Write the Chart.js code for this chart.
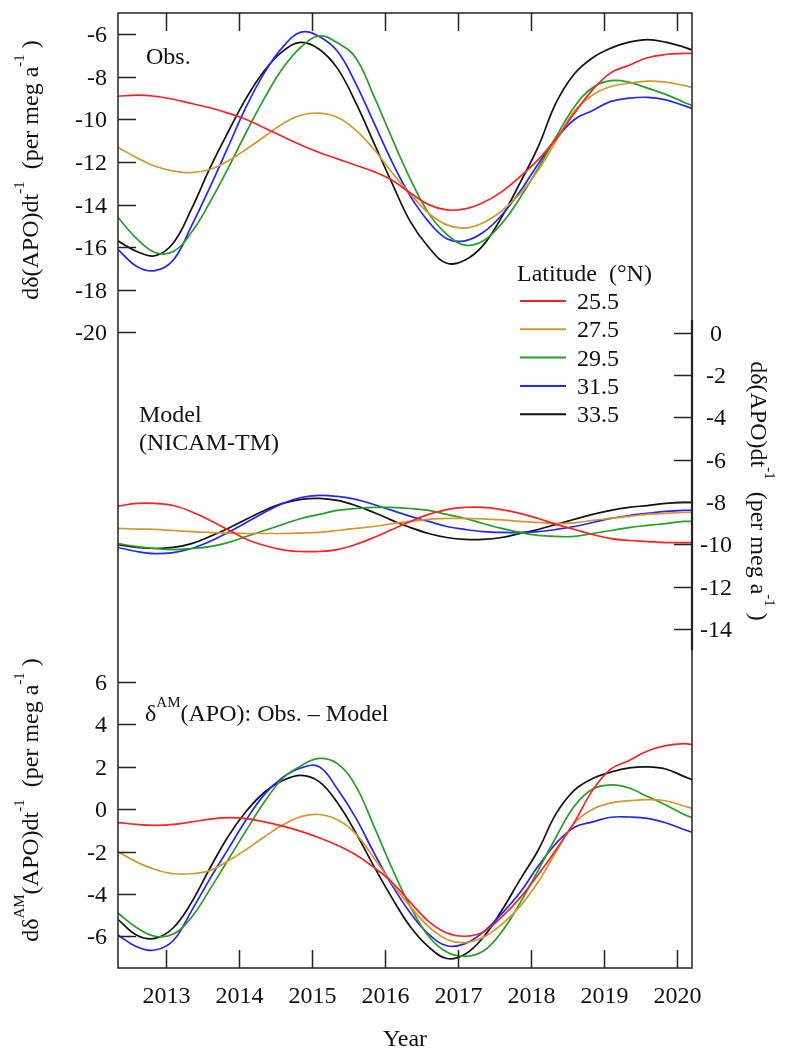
<!DOCTYPE html>
<html><head><meta charset="utf-8">
<script src="https://cdn.jsdelivr.net/npm/chart.js@4.4.1/dist/chart.umd.min.js"></script>
<style>html,body{margin:0;padding:0;background:#fff}canvas{display:block}</style>
</head><body>
<canvas id="c" width="787" height="1050"></canvas>
<script>
// ---- data ----
const years = [2012.34, 2012.6, 2012.85, 2013.1, 2013.35, 2013.6, 2013.85, 2014.1, 2014.35, 2014.6, 2014.85, 2015.1, 2015.35, 2015.6, 2015.85, 2016.1, 2016.35, 2016.6, 2016.85, 2017.1, 2017.35, 2017.6, 2017.85, 2018.1, 2018.35, 2018.6, 2018.85, 2019.1, 2019.35, 2019.6, 2019.85, 2020.1, 2020.21];
const latitudes = ['25.5', '27.5', '29.5', '31.5', '33.5'];
const colors = ['#ff2020', '#d8952a', '#22a022', '#2424ff', '#111111'];

// Obs. panel (left axis, upper)
const obs25 = [-8.91,-8.86,-8.91,-9.05,-9.25,-9.45,-9.70,-10.00,-10.40,-10.80,-11.20,-11.55,-11.85,-12.15,-12.45,-12.85,-13.45,-14.00,-14.25,-14.20,-13.90,-13.40,-12.70,-11.90,-10.90,-9.70,-8.60,-7.80,-7.45,-7.10,-6.95,-6.90,-6.90];
const obs27 = [-11.30,-11.80,-12.20,-12.42,-12.50,-12.35,-11.95,-11.40,-10.80,-10.20,-9.80,-9.70,-9.90,-10.50,-11.40,-12.50,-13.50,-14.40,-14.95,-15.10,-14.85,-14.30,-13.50,-12.40,-11.00,-9.60,-8.85,-8.45,-8.30,-8.20,-8.25,-8.40,-8.49];
const obs29 = [-14.60,-15.60,-16.25,-16.20,-15.30,-13.90,-12.30,-10.60,-9.00,-7.60,-6.60,-6.08,-6.40,-7.10,-8.90,-10.90,-12.80,-14.40,-15.40,-15.90,-15.70,-14.90,-13.70,-12.30,-10.80,-9.40,-8.50,-8.18,-8.25,-8.53,-8.82,-9.19,-9.34];
const obs31 = [-16.10,-16.90,-17.10,-16.60,-15.00,-13.20,-11.30,-9.40,-7.80,-6.60,-5.90,-6.10,-6.80,-8.30,-10.15,-12.00,-13.60,-14.80,-15.60,-15.70,-15.30,-14.50,-13.40,-12.10,-10.90,-10.00,-9.58,-9.15,-9.00,-8.96,-9.08,-9.35,-9.48];
const obs33 = [-15.70,-16.20,-16.40,-15.80,-14.20,-12.30,-10.60,-9.00,-7.70,-6.80,-6.38,-6.70,-7.60,-9.20,-11.10,-13.00,-14.80,-16.00,-16.75,-16.60,-15.90,-14.60,-13.00,-11.30,-9.20,-7.85,-7.10,-6.65,-6.37,-6.25,-6.37,-6.60,-6.74];

// Model (NICAM-TM) panel (right axis)
const mod25 = [-8.19,-8.06,-8.06,-8.16,-8.45,-8.85,-9.30,-9.75,-10.05,-10.25,-10.33,-10.33,-10.24,-10.00,-9.67,-9.29,-8.91,-8.58,-8.35,-8.25,-8.25,-8.35,-8.53,-8.77,-9.05,-9.29,-9.53,-9.72,-9.81,-9.86,-9.91,-9.91,-9.91];
const mod27 = [-9.24,-9.27,-9.29,-9.34,-9.39,-9.43,-9.46,-9.48,-9.48,-9.48,-9.46,-9.43,-9.34,-9.24,-9.15,-9.01,-8.91,-8.81,-8.77,-8.77,-8.79,-8.84,-8.91,-8.96,-9.01,-8.98,-8.86,-8.77,-8.67,-8.58,-8.53,-8.49,-8.49];
const mod29 = [-9.96,-10.10,-10.19,-10.24,-10.19,-10.10,-9.91,-9.62,-9.34,-9.05,-8.77,-8.58,-8.39,-8.30,-8.25,-8.25,-8.30,-8.39,-8.58,-8.77,-9.01,-9.24,-9.43,-9.57,-9.62,-9.62,-9.48,-9.34,-9.20,-9.10,-9.01,-8.91,-8.91];
const mod31 = [-10.14,-10.33,-10.43,-10.38,-10.19,-9.86,-9.43,-8.96,-8.49,-8.06,-7.78,-7.68,-7.73,-7.87,-8.11,-8.39,-8.67,-8.91,-9.15,-9.29,-9.39,-9.43,-9.43,-9.39,-9.29,-9.15,-8.96,-8.77,-8.63,-8.53,-8.44,-8.39,-8.39];
const mod33 = [-10.00,-10.14,-10.19,-10.14,-9.96,-9.62,-9.24,-8.81,-8.39,-8.06,-7.87,-7.82,-7.92,-8.16,-8.49,-8.86,-9.20,-9.48,-9.67,-9.76,-9.76,-9.67,-9.48,-9.29,-9.05,-8.81,-8.58,-8.39,-8.25,-8.16,-8.06,-8.01,-8.01];

// Obs. - Model panel (left axis, lower)
const dif25 = [-0.63,-0.72,-0.76,-0.72,-0.60,-0.47,-0.40,-0.45,-0.60,-0.80,-1.05,-1.35,-1.70,-2.15,-2.75,-3.45,-4.40,-5.30,-5.85,-6.00,-5.80,-5.10,-4.20,-3.10,-1.90,-0.60,0.90,1.90,2.30,2.75,3.00,3.10,3.05];
const dif27 = [-2.00,-2.50,-2.85,-3.05,-3.05,-2.90,-2.45,-1.90,-1.30,-0.75,-0.35,-0.25,-0.50,-1.15,-2.30,-3.50,-4.60,-5.55,-6.15,-6.30,-6.05,-5.45,-4.60,-3.45,-2.00,-0.65,0.00,0.30,0.40,0.45,0.40,0.15,0.05];
const dif29 = [-4.90,-5.60,-6.00,-5.90,-5.10,-3.80,-2.40,-1.00,0.35,1.45,2.05,2.40,2.15,1.10,-0.80,-2.80,-4.60,-6.00,-6.75,-6.95,-6.70,-5.80,-4.45,-2.90,-1.30,0.15,0.95,1.15,1.00,0.60,0.20,-0.25,-0.40];
const dif31 = [-5.94,-6.50,-6.65,-6.20,-4.80,-3.30,-1.90,-0.50,0.70,1.50,1.95,2.00,0.95,-0.40,-2.05,-3.60,-4.90,-5.90,-6.45,-6.35,-5.80,-4.95,-3.95,-2.70,-1.60,-0.85,-0.60,-0.38,-0.37,-0.43,-0.64,-0.96,-1.09];
const dif33 = [-5.20,-5.95,-6.10,-5.60,-4.40,-2.80,-1.30,-0.10,0.80,1.35,1.60,1.30,0.30,-1.10,-2.70,-4.20,-5.55,-6.50,-7.05,-6.85,-6.05,-4.80,-3.35,-1.95,-0.20,0.90,1.45,1.75,1.95,2.00,1.90,1.55,1.40];

// tick labels
const xTicks = [2013, 2014, 2015, 2016, 2017, 2018, 2019, 2020];
const obsTicks = [-6, -8, -10, -12, -14, -16, -18, -20];
const modTicks = [0, -2, -4, -6, -8, -10, -12, -14];
const difTicks = [6, 4, 2, 0, -2, -4, -6];

// ---- chart ----
const FONT = '"Liberation Serif", "Times New Roman", serif';
const panels = [
  {axis: 'yObs', series: [obs25, obs27, obs29, obs31, obs33]},
  {axis: 'yMod', series: [mod25, mod27, mod29, mod31, mod33]},
  {axis: 'yDif', series: [dif25, dif27, dif29, dif31, dif33]}
];
const datasets = [];
panels.forEach(p => {
  p.series.forEach((vals, i) => {
    datasets.push({
      label: latitudes[i],
      data: years.map((x, k) => ({x: x, y: vals[k]})),
      yAxisID: p.axis,
      borderColor: colors[i],
      borderWidth: 1.7,
      pointRadius: 0,
      tension: 0.4,
      fill: false
    });
  });
});

function rich(ctx, parts, x, y, rot, align) {
  ctx.save();
  ctx.translate(x, y);
  ctx.rotate(rot);
  ctx.textAlign = 'left';
  ctx.textBaseline = 'alphabetic';
  let total = 0;
  const w = parts.map(p => {
    ctx.font = (p.sup ? 15 : 24) + 'px ' + FONT;
    const m = ctx.measureText(p.t).width;
    total += m;
    return m;
  });
  let cx = align === 'center' ? -total / 2 : 0;
  parts.forEach((p, i) => {
    ctx.font = (p.sup ? 15 : 24) + 'px ' + FONT;
    ctx.fillText(p.t, cx, p.sup ? -14 : 0);
    cx += w[i];
  });
  ctx.restore();
}

const decor = {
  id: 'decor',
  afterDatasetsDraw(chart) {
    const ctx = chart.ctx;
    const a = chart.chartArea;
    const sx = chart.scales.x, so = chart.scales.yObs, sm = chart.scales.yMod, sd = chart.scales.yDif;
    ctx.save();
    ctx.strokeStyle = '#222';
    ctx.fillStyle = '#111';
    ctx.lineWidth = 1.5;
    ctx.strokeRect(a.left, a.top, a.right - a.left, a.bottom - a.top);
    // right axis line (model)
    ctx.lineWidth = 2.2;
    ctx.beginPath();
    ctx.moveTo(a.right, sm.getPixelForValue(0.6));
    ctx.lineTo(a.right, sm.getPixelForValue(-15.0));
    ctx.stroke();
    ctx.lineWidth = 1.5;
    const TL = 18;
    // x ticks
    ctx.font = '24px ' + FONT;
    ctx.textAlign = 'center';
    ctx.textBaseline = 'alphabetic';
    xTicks.forEach(t => {
      const px = Math.round(sx.getPixelForValue(t)) + 0.5;
      ctx.beginPath();
      ctx.moveTo(px, a.bottom); ctx.lineTo(px, a.bottom - TL);
      ctx.moveTo(px, a.top); ctx.lineTo(px, a.top + TL);
      ctx.stroke();
      ctx.fillText(String(t), px, 1003);
    });
    // left ticks (obs + diff)
    ctx.textAlign = 'right';
    ctx.textBaseline = 'middle';
    [[so, obsTicks], [sd, difTicks]].forEach(([s, ticks]) => {
      ticks.forEach(t => {
        const py = Math.round(s.getPixelForValue(t)) + 0.5;
        ctx.beginPath();
        ctx.moveTo(a.left, py); ctx.lineTo(a.left + TL, py);
        ctx.stroke();
        ctx.fillText(String(t), 107, py + 1);
      });
    });
    // right ticks (model)
    ctx.textAlign = 'center';
    modTicks.forEach(t => {
      const py = Math.round(sm.getPixelForValue(t)) + 0.5;
      ctx.beginPath();
      ctx.moveTo(a.right, py); ctx.lineTo(a.right - TL, py);
      ctx.stroke();
      ctx.fillText(String(t), 716, py + 1);
    });
    // x title
    ctx.textBaseline = 'alphabetic';
    ctx.fillText('Year', (a.left + a.right) / 2, 1046);
    // panel labels
    ctx.textAlign = 'left';
    ctx.fillText('Obs.', 146, 64);
    ctx.fillText('Model', 139, 422);
    ctx.fillText('(NICAM-TM)', 139, 450);
    rich(ctx, [{t: 'δ'}, {t: 'AM', sup: true}, {t: '(APO): Obs. – Model'}], 145, 721, 0, 'left');
    // axis titles
    rich(ctx, [{t: 'dδ(APO)dt'}, {t: '-1', sup: true}, {t: '  (per meg a'}, {t: '-1', sup: true}, {t: ' )'}], 38, 170, -Math.PI / 2, 'center');
    rich(ctx, [{t: 'dδ'}, {t: 'AM', sup: true}, {t: '(APO)dt'}, {t: '-1', sup: true}, {t: '  (per meg a'}, {t: '-1', sup: true}, {t: ' )'}], 38, 800, -Math.PI / 2, 'center');
    rich(ctx, [{t: 'dδ(APO)dt'}, {t: '-1', sup: true}, {t: '  (per meg a'}, {t: '-1', sup: true}, {t: ' )'}], 751, 491, Math.PI / 2, 'center');
    // legend
    ctx.font = '24px ' + FONT;
    ctx.textAlign = 'left';
    ctx.fillStyle = '#111';
    ctx.fillText('Latitude  (°N)', 517, 281);
    latitudes.forEach((lab, i) => {
      const ly = 301 + i * 28.3;
      ctx.strokeStyle = colors[i];
      ctx.lineWidth = 2;
      ctx.beginPath();
      ctx.moveTo(520, ly); ctx.lineTo(566, ly);
      ctx.stroke();
      ctx.fillText(lab, 577, ly + 8);
    });
    ctx.restore();
  }
};

new Chart(document.getElementById('c'), {
  type: 'line',
  data: {datasets: datasets},
  options: {
    responsive: false,
    animation: false,
    devicePixelRatio: 1,
    layout: {padding: {left: 118, right: 95, top: 13, bottom: 82}},
    plugins: {legend: {display: false}, tooltip: {enabled: false}},
    scales: {
      x: {type: 'linear', min: 2012.342, max: 2020.211, display: false},
      yObs: {type: 'linear', position: 'left', min: -49.85, max: -5, display: false},
      yMod: {type: 'linear', position: 'right', min: -30, max: 15.1, display: false},
      yDif: {type: 'linear', position: 'left', min: -7.5, max: 37.6, display: false}
    }
  },
  plugins: [decor]
});
</script>
</body></html>
